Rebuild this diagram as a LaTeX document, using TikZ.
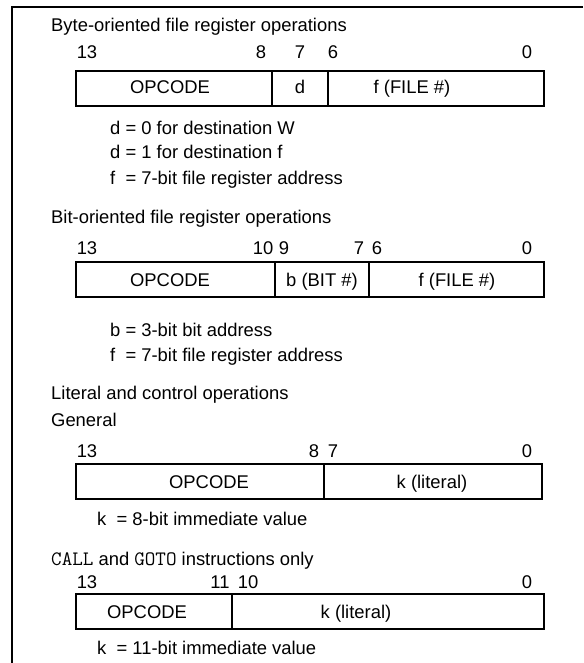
\documentclass[tikz,border=0pt]{standalone}
\usepackage{fontspec}
\setmainfont{Liberation Sans}
\usetikzlibrary{
    positioning
}
\newcommand{\fpad}{\rlap{f}\phantom{d}}
\newcommand{\mnem}[1]{{\ttfamily\fontsize{20.5}{21}\selectfont #1}}
\tikzset{
    opfield/.style={
        rectangle,
        draw=black,
        line width=1.8pt,
        minimum height=35,
        inner sep=0pt,
        outer sep=0pt
    },
    fieldlabel/.style={
        anchor=base,
        inner sep=0pt
    },
    bitindex/.style={
        anchor=base,
        inner sep=0pt
    },
    sectiontitle/.style={
        anchor=base west,
        inner sep=0pt
    },
    remark/.style={
        anchor=base west,
        inner sep=0pt
    },
    framerule/.style={
        draw=black,
        line width=2pt
    }
}

\begin{document}
\begin{tikzpicture}[
    x=1pt,
    y=-1pt,
    font=\fontsize{18.4}{21}\selectfont
]
\useasboundingbox (0,0) rectangle (583,663);

% Outer frame (top and left edges)
\draw[framerule] (583,7) -- (12,7) -- (12,663);

% Byte-oriented instructions
\node[sectiontitle] (bytetitle) at (51,32) {Byte-oriented file register operations};
\node[bitindex] (bytebitA) at (87,59) {13};
\node[bitindex] (bytebitB) at (261,59) {8};
\node[bitindex] (bytebitC) at (300,59) {7};
\node[bitindex] (bytebitD) at (333,59) {6};
\node[bitindex] (bytebitE) at (527,59) {0};

\node[opfield, minimum width=196, anchor=north west] (byteop) at (76,71) {};
\node[opfield, minimum width=56, right=0pt of byteop] (byted) {};
\node[opfield, minimum width=216, right=0pt of byted] (bytef) {};
\node[fieldlabel] (byteoplabel) at (170,94) {OPCODE};
\node[fieldlabel] (bytedlabel) at (300,94) {d};
\node[fieldlabel] (byteflabel) at (412,94) {f (FILE \#)};

\node[remark] (bytenoteA) at (110,135) {d = 0 for destination W};
\node[remark] (bytenoteB) at (110,159) {d = 1 for destination f};
\node[remark] (bytenoteC) at (110,184) {\fpad{} = 7-bit file register address};

% Bit-oriented instructions
\node[sectiontitle] (bittitle) at (51,223) {Bit-oriented file register operations};
\node[bitindex] (bitbitA) at (87,254) {13};
\node[bitindex] (bitbitB) at (263,254) {10};
\node[bitindex] (bitbitC) at (284,254) {9};
\node[bitindex] (bitbitD) at (359,254) {7};
\node[bitindex] (bitbitE) at (377,254) {6};
\node[bitindex] (bitbitF) at (527,254) {0};

\node[opfield, minimum width=199, anchor=north west] (bitop) at (76,262) {};
\node[opfield, minimum width=94, right=0pt of bitop] (bitb) {};
\node[opfield, minimum width=175, right=0pt of bitb] (bitf) {};
\node[fieldlabel] (bitoplabel) at (170,286) {OPCODE};
\node[fieldlabel] (bitblabel) at (322,286) {b (BIT \#)};
\node[fieldlabel] (bitflabel) at (457,286) {f (FILE \#)};

\node[remark] (bitnoteA) at (110,336) {b = 3-bit bit address};
\node[remark] (bitnoteB) at (110,361) {\fpad{} = 7-bit file register address};

% Literal and control instructions
\node[sectiontitle] (littitle) at (51,399) {Literal and control operations};
\node[sectiontitle] (litgeneral) at (51,426) {General};
\node[bitindex] (litbitA) at (87,457) {13};
\node[bitindex] (litbitB) at (314,457) {8};
\node[bitindex] (litbitC) at (333,457) {7};
\node[bitindex] (litbitD) at (527,457) {0};

\node[opfield, minimum width=248, anchor=north west] (litop) at (76,464) {};
\node[opfield, minimum width=218, right=0pt of litop] (litk) {};
\node[fieldlabel] (litoplabel) at (209,488) {OPCODE};
\node[fieldlabel] (litklabel) at (432,488) {k (literal)};

\node[remark] (litnote) at (97,525) {k~~= 8-bit immediate value};

% CALL and GOTO
\node[sectiontitle] (calltitle) at (51,565) {\mnem{CALL} and \mnem{GOTO} instructions only};
\node[bitindex] (callbitA) at (87,588) {13};
\node[bitindex] (callbitB) at (220,588) {11};
\node[bitindex] (callbitC) at (248,588) {10};
\node[bitindex] (callbitD) at (527,588) {0};

\node[opfield, minimum width=156, anchor=north west] (callop) at (76,594) {};
\node[opfield, minimum width=312, right=0pt of callop] (callk) {};
\node[fieldlabel] (calloplabel) at (147,618) {OPCODE};
\node[fieldlabel] (callklabel) at (356,618) {k (literal)};

\node[remark] (callnote) at (97,654) {k~~= 11-bit immediate value};

\end{tikzpicture}
\end{document}
